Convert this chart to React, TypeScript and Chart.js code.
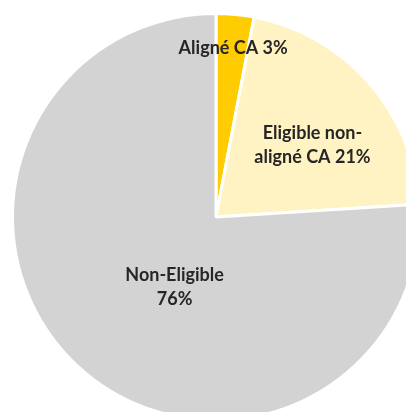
import React, { useEffect, useRef } from "react";
import { Chart, registerables } from "chart.js";

Chart.register(...registerables);

const categories = ["Aligné CA", "Eligible non-aligné CA", "Non-Eligible"];
const values = [3, 21, 76];
const labelLines = [["Aligné CA 3%"], ["Eligible non-", "aligné CA 21%"], ["Non-Eligible", "76%"]];
const colors = ["#FFCC00", "#FFF3C4", "#D3D3D3"];

// label placement: fraction of outer radius, angle offset (radians) from slice mid-angle
const labelPlacement = [
  { r: 0.835, da: 0.007 },
  { r: 0.59, da: 0.085 },
  { r: 0.4, da: -0.22 },
];

const labelPlugin = {
  id: "sliceLabels",
  afterDatasetsDraw(chart: any) {
    const ctx = chart.ctx;
    const meta = chart.getDatasetMeta(0);
    ctx.save();
    ctx.font = "bold 18px Lato, 'Open Sans', sans-serif";
    ctx.fillStyle = "#262626";
    ctx.textAlign = "center";
    ctx.textBaseline = "middle";
    meta.data.forEach((arc: any, i: number) => {
      const p = arc.getProps(["x", "y", "startAngle", "endAngle", "outerRadius"], true);
      const mid = (p.startAngle + p.endAngle) / 2 + labelPlacement[i].da;
      const rr = p.outerRadius * labelPlacement[i].r;
      const cx = p.x + Math.cos(mid) * rr;
      const cy = p.y + Math.sin(mid) * rr;
      const lines = labelLines[i];
      const lh = 24;
      lines.forEach((t, j) => {
        ctx.fillText(t, cx, cy + (j - (lines.length - 1) / 2) * lh);
      });
    });
    ctx.restore();
  },
};

export default function App() {
  const ref = useRef<HTMLCanvasElement>(null);
  useEffect(() => {
    if (!ref.current) return;
    const chart = new Chart(ref.current, {
      type: "pie",
      data: {
        labels: categories,
        datasets: [
          {
            data: values,
            backgroundColor: colors,
            borderColor: "#FFFFFF",
            borderWidth: 3,
          },
        ],
      },
      options: {
        responsive: false,
        animation: false,
        radius: 203.5,
        layout: { padding: 0 },
        plugins: {
          legend: { display: false },
          tooltip: { enabled: false },
        },
      } as any,
      plugins: [labelPlugin],
    });
    return () => chart.destroy();
  }, []);
  return (
    <div
      style={{
        position: "fixed",
        left: 0,
        top: 0,
        width: 406,
        height: 412,
        overflow: "hidden",
        background: "#FFFFFF",
      }}
    >
      <canvas
        ref={ref}
        width={416}
        height={418}
        style={{ display: "block", position: "absolute", left: 8, top: 8 }}
      />
    </div>
  );
}
